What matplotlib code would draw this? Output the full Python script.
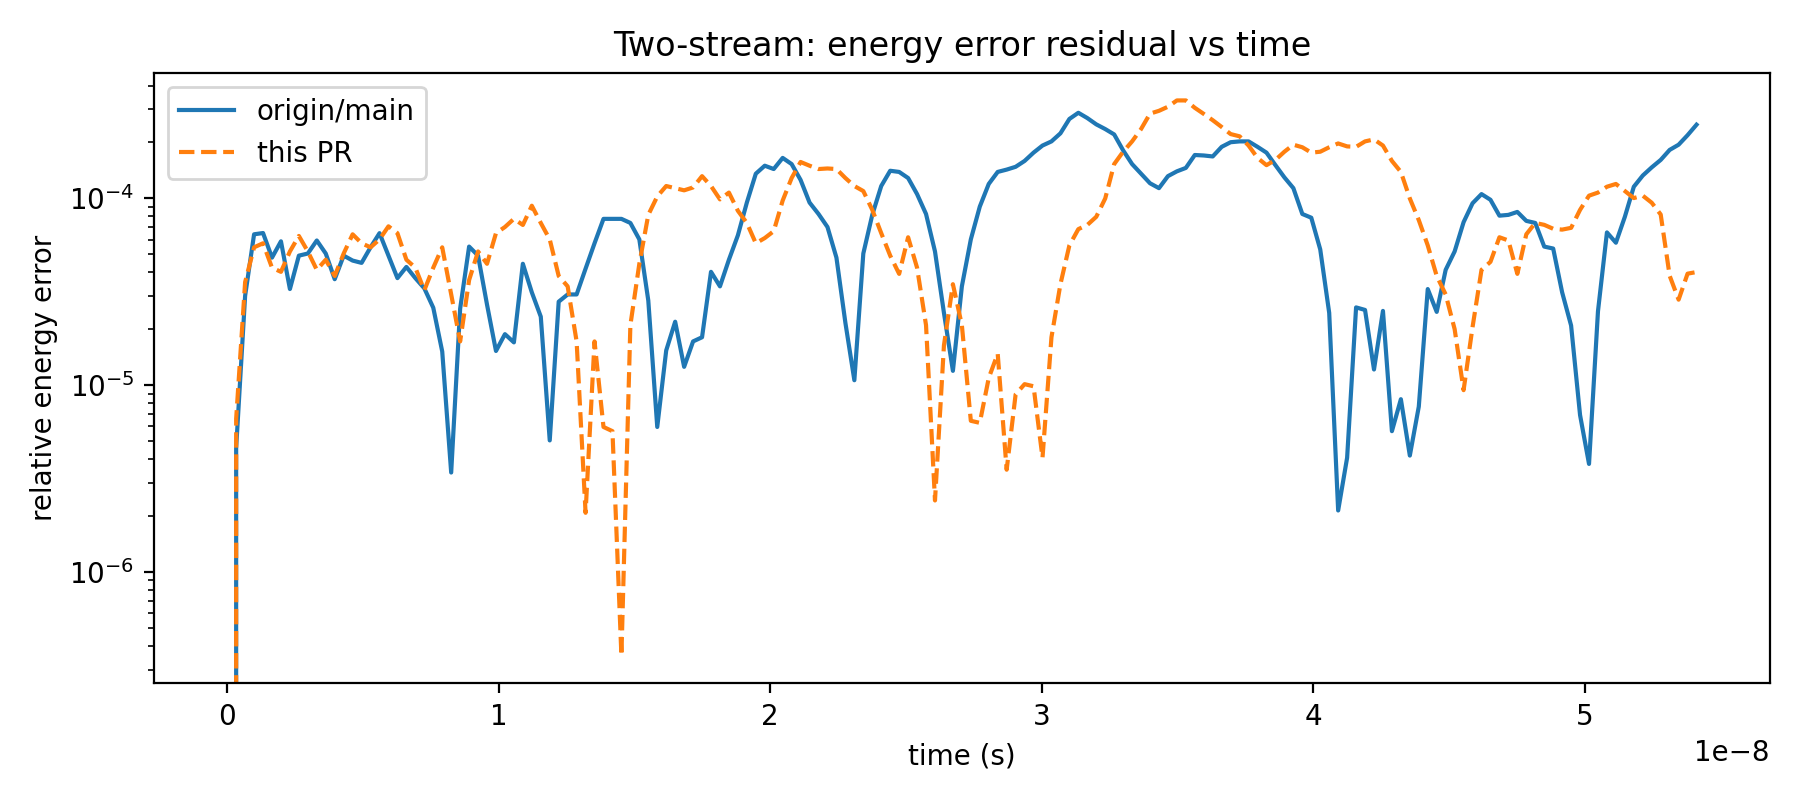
import numpy as np
import matplotlib
matplotlib.use("Agg")
import matplotlib.pyplot as plt

# time grid of the diagnostic output (uniform steps)
n_steps = 165
dt = 3.3e-10
t = np.arange(n_steps) * dt

# relative energy error
err_main = [
    0.0, 4.6e-6, 3.0e-5, 6.4e-5, 6.5e-5, 4.8e-5, 5.87e-5, 3.26e-5, 4.92e-5, 5.05e-5,
    5.93e-5, 5.05e-5, 3.68e-5, 4.92e-5, 4.63e-5, 4.50e-5, 5.45e-5, 6.49e-5, 4.92e-5, 3.73e-5,
    4.28e-5, 3.73e-5, 3.29e-5, 2.59e-5, 1.51e-5, 3.40e-6, 2.56e-5, 5.50e-5, 4.92e-5, 2.69e-5,
    1.52e-5, 1.87e-5, 1.69e-5, 4.45e-5, 3.13e-5, 2.32e-5, 5.05e-6, 2.79e-5, 3.05e-5, 3.05e-5,
    4.19e-5, 5.73e-5, 7.74e-5, 7.74e-5, 7.74e-5, 7.36e-5, 6.01e-5, 2.83e-5, 5.96e-6, 1.53e-5,
    2.18e-5, 1.25e-5, 1.71e-5, 1.80e-5, 4.03e-5, 3.37e-5, 4.68e-5, 6.32e-5, 9.46e-5, 1.35e-4,
    1.49e-4, 1.43e-4, 1.64e-4, 1.52e-4, 1.25e-4, 9.46e-5, 8.22e-5, 7.00e-5, 4.80e-5, 2.15e-5,
    1.06e-5, 5.05e-5, 8.13e-5, 1.16e-4, 1.40e-4, 1.38e-4, 1.28e-4, 1.05e-4, 8.22e-5, 5.18e-5,
    2.43e-5, 1.19e-5, 3.37e-5, 6.01e-5, 9.00e-5, 1.19e-4, 1.38e-4, 1.42e-4, 1.47e-4, 1.58e-4,
    1.75e-4, 1.91e-4, 2.01e-4, 2.22e-4, 2.65e-4, 2.86e-4, 2.68e-4, 2.48e-4, 2.34e-4, 2.19e-4,
    1.80e-4, 1.52e-4, 1.35e-4, 1.20e-4, 1.13e-4, 1.31e-4, 1.39e-4, 1.45e-4, 1.70e-4, 1.69e-4,
    1.67e-4, 1.88e-4, 1.99e-4, 2.01e-4, 2.01e-4, 1.88e-4, 1.75e-4, 1.50e-4, 1.29e-4, 1.13e-4,
    8.22e-5, 7.85e-5, 5.31e-5, 2.43e-5, 2.13e-6, 4.08e-6, 2.60e-5, 2.52e-5, 1.21e-5, 2.49e-5,
    5.66e-6, 8.39e-6, 4.19e-6, 7.66e-6, 3.26e-5, 2.46e-5, 4.13e-5, 5.18e-5, 7.43e-5, 9.38e-5,
    1.05e-4, 9.79e-5, 8.05e-5, 8.13e-5, 8.43e-5, 7.55e-5, 7.36e-5, 5.50e-5, 5.37e-5, 3.13e-5,
    2.08e-5, 6.90e-6, 3.78e-6, 2.48e-5, 6.55e-5, 5.77e-5, 7.94e-5, 1.15e-4, 1.32e-4, 1.46e-4,
    1.60e-4, 1.81e-4, 1.93e-4, 2.17e-4, 2.47e-4,
]

err_pr = [
    0.0, 6.59e-6, 3.55e-5, 5.45e-5, 5.73e-5, 4.24e-5, 4.03e-5, 5.18e-5, 6.27e-5, 5.18e-5,
    4.13e-5, 4.68e-5, 3.83e-5, 5.05e-5, 6.40e-5, 5.73e-5, 5.45e-5, 6.01e-5, 7.06e-5, 6.49e-5,
    4.68e-5, 4.24e-5, 3.21e-5, 4.24e-5, 5.45e-5, 3.05e-5, 1.71e-5, 3.64e-5, 5.18e-5, 4.45e-5,
    6.49e-5, 7.00e-5, 7.74e-5, 7.18e-5, 9.10e-5, 7.36e-5, 6.01e-5, 3.83e-5, 3.37e-5, 1.71e-5,
    2.07e-6, 1.71e-5, 5.96e-6, 5.66e-6, 3.56e-7, 2.09e-5, 4.45e-5, 8.13e-5, 1.02e-4, 1.16e-4,
    1.13e-4, 1.10e-4, 1.14e-4, 1.31e-4, 1.16e-4, 9.84e-5, 1.07e-4, 8.55e-5, 7.36e-5, 5.73e-5,
    6.11e-5, 6.65e-5, 9.70e-5, 1.28e-4, 1.56e-4, 1.49e-4, 1.43e-4, 1.44e-4, 1.43e-4, 1.28e-4,
    1.16e-4, 1.09e-4, 8.65e-5, 6.49e-5, 4.92e-5, 3.93e-5, 6.17e-5, 4.24e-5, 2.09e-5, 2.41e-6,
    1.63e-5, 3.46e-5, 2.09e-5, 6.43e-6, 6.27e-6, 1.09e-5, 1.47e-5, 3.52e-6, 8.91e-6, 1.01e-5,
    9.84e-6, 4.08e-6, 1.80e-5, 3.46e-5, 5.58e-5, 6.82e-5, 7.18e-5, 7.94e-5, 9.95e-5, 1.52e-4,
    1.77e-4, 2.01e-4, 2.34e-4, 2.83e-4, 2.93e-4, 3.08e-4, 3.33e-4, 3.33e-4, 3.04e-4, 2.82e-4,
    2.61e-4, 2.40e-4, 2.20e-4, 2.14e-4, 1.91e-4, 1.64e-4, 1.50e-4, 1.60e-4, 1.77e-4, 1.93e-4,
    1.87e-4, 1.75e-4, 1.77e-4, 1.87e-4, 1.96e-4, 1.89e-4, 1.88e-4, 2.01e-4, 2.06e-4, 1.91e-4,
    1.58e-4, 1.38e-4, 9.95e-5, 7.62e-5, 5.58e-5, 3.83e-5, 3.05e-5, 1.99e-5, 9.38e-6, 2.04e-5,
    4.13e-5, 4.56e-5, 6.17e-5, 5.93e-5, 3.93e-5, 6.40e-5, 7.36e-5, 7.19e-5, 6.85e-5, 6.78e-5,
    6.93e-5, 8.65e-5, 1.03e-4, 1.07e-4, 1.15e-4, 1.19e-4, 1.09e-4, 1.00e-4, 1.03e-4, 9.44e-5,
    8.17e-5, 3.84e-5, 2.86e-5, 3.94e-5, 4.02e-5,
]

fig, ax = plt.subplots(figsize=(9, 4), dpi=200)
ax.plot(t, err_main, label="origin/main")
ax.plot(t, err_pr, "--", label="this PR")
ax.set_yscale("log")
ax.set_xlabel("time (s)")
ax.set_ylabel("relative energy error")
ax.set_title("Two-stream: energy error residual vs time")
ax.legend(loc="upper left")
fig.tight_layout()
fig.savefig("out.png")
